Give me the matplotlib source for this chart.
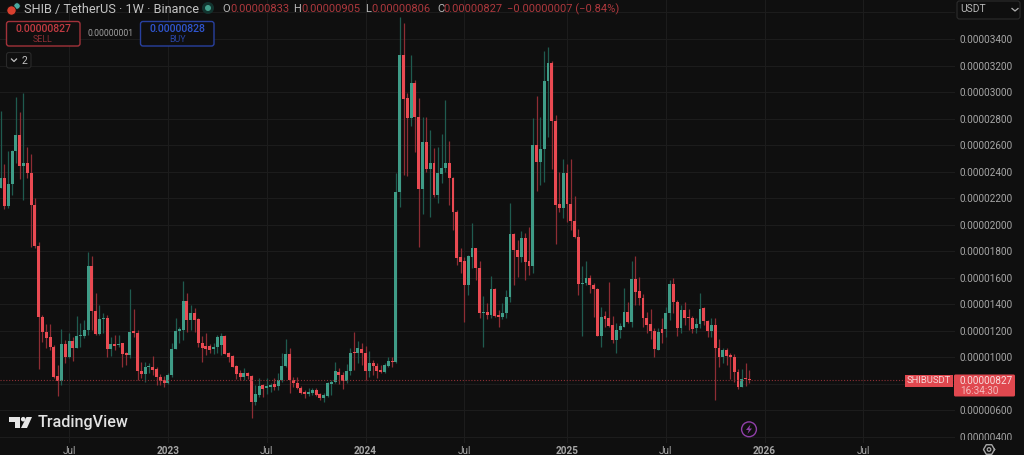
import numpy as np
import matplotlib
matplotlib.use("Agg")
import matplotlib.pyplot as plt
from matplotlib.patches import Circle, FancyBboxPatch, Polygon, Rectangle

plt.rcParams["font.family"] = ["Roboto", "DejaVu Sans"]

# SHIB/USDT weekly candles, prices in units of 0.00000001
opens = [
    2276, 2352, 2143, 2307, 2558, 2676, 2442, 2465, 2392, 2148,
    1839, 1306, 1193, 1151, 1080, 859, 821, 1098, 1000, 1120,
    1068, 1161, 1161, 1206, 1688, 1347, 1176, 1286, 1299, 1060,
    1100, 1095, 1105, 1030, 1015, 1191, 1186, 899, 874, 924,
    929, 909, 854, 829, 809, 864, 1065, 1201, 1206, 1427,
    1281, 1332, 1286, 1105, 1088, 1088, 1065, 1080, 1093, 1161,
    1030, 1010, 934, 879, 849, 879, 859, 661, 718, 789,
    771, 779, 796, 784, 829, 934, 1025, 829, 809, 769,
    741, 723, 728, 754, 721, 696, 711, 799, 811, 892,
    867, 821, 899, 1035, 1030, 1063, 1035, 899, 955, 935,
    902, 887, 937, 972, 965, 2249, 3279, 2955, 2804, 3068,
    2812, 2269, 2623, 2420, 2465, 2224, 2382, 2427, 2465, 2352,
    2096, 1756, 1726, 1545, 1756, 1824, 1673, 1334, 1341, 1319,
    1515, 1319, 1304, 1334, 1455, 1930, 1809, 1756, 1900, 1726,
    1688, 2601, 2473, 2571, 3083, 3219, 2782, 2156, 2126, 2390,
    2156, 2028, 1907, 1553, 1560, 1598, 1545, 1515, 1161, 1311,
    1296, 1243, 1130, 1206, 1228, 1342, 1266, 1590, 1500, 1447,
    1296, 1251, 1198, 1055, 1213, 1213, 1334, 1553, 1417, 1221,
    1357, 1304, 1296, 1221, 1251, 1372, 1274, 1198, 1243, 1070,
    1002, 1055, 1017, 1002, 889, 776, 844, 833,
]
closes = [
    2352, 2143, 2307, 2558, 2676, 2442, 2465, 2392, 2148, 1839,
    1306, 1188, 1148, 1080, 854, 821, 1098, 1000, 1120, 1073,
    1161, 1171, 1206, 1688, 1347, 1176, 1286, 1299, 1060, 1100,
    1085, 1103, 1025, 1015, 1191, 1186, 899, 874, 924, 937,
    904, 849, 824, 809, 864, 1065, 1201, 1206, 1427, 1281,
    1332, 1281, 1105, 1073, 1065, 1055, 1080, 1156, 1161, 1025,
    1000, 929, 874, 849, 879, 859, 666, 721, 784, 764,
    779, 786, 774, 829, 934, 1025, 829, 804, 766, 733,
    721, 741, 754, 718, 696, 713, 804, 811, 894, 867,
    821, 899, 1030, 1030, 1068, 1035, 899, 955, 935, 899,
    887, 942, 972, 967, 2249, 3279, 2948, 2804, 3068, 2812,
    2269, 2623, 2420, 2465, 2224, 2390, 2427, 2465, 2352, 2096,
    1749, 1718, 1545, 1764, 1824, 1673, 1334, 1341, 1319, 1515,
    1311, 1304, 1334, 1455, 1930, 1809, 1756, 1900, 1718, 1688,
    2601, 2473, 2571, 3083, 3219, 2782, 2148, 2126, 2390, 2156,
    2028, 1907, 1553, 1560, 1598, 1545, 1515, 1161, 1304, 1289,
    1236, 1130, 1206, 1236, 1342, 1266, 1590, 1492, 1447, 1296,
    1243, 1198, 1062, 1191, 1183, 1334, 1553, 1417, 1221, 1357,
    1296, 1296, 1213, 1251, 1364, 1274, 1198, 1243, 1070, 1002,
    1055, 1010, 1002, 889, 776, 836, 836, 827,
]
highs = [
    2859, 2457, 2558, 2563, 2965, 2850, 2995, 2586, 2533, 2201,
    1872, 1319, 1251, 1251, 1093, 942, 1211, 1130, 1181, 1151,
    1314, 1256, 1281, 1796, 1764, 1482, 1394, 1332, 1319, 1156,
    1168, 1168, 1110, 1043, 1517, 1362, 1206, 967, 967, 955,
    1010, 929, 874, 859, 879, 1105, 1294, 1226, 1575, 1482,
    1394, 1369, 1294, 1161, 1181, 1100, 1105, 1168, 1186, 1168,
    1043, 1017, 942, 904, 917, 892, 867, 791, 841, 796,
    841, 804, 841, 879, 1030, 1138, 1068, 854, 849, 784,
    754, 766, 766, 766, 728, 733, 816, 829, 962, 917,
    892, 950, 1068, 1193, 1125, 1105, 1088, 1050, 980, 955,
    942, 955, 1005, 1005, 2390, 3566, 3521, 2993, 3279, 3091,
    2955, 2812, 2812, 2714, 2578, 2586, 2684, 2940, 2631, 2359,
    2111, 1824, 1756, 1771, 2013, 1827, 1726, 1462, 1409, 1613,
    1522, 1357, 1409, 1507, 2163, 1937, 1884, 1952, 1937, 1982,
    2804, 2970, 2812, 3309, 3340, 3234, 2827, 2397, 2495, 2457,
    2495, 2216, 1967, 1688, 1726, 1620, 1560, 1522, 1379, 1349,
    1568, 1311, 1259, 1259, 1522, 1417, 1726, 1764, 1605, 1477,
    1342, 1364, 1221, 1221, 1296, 1379, 1583, 1598, 1432, 1394,
    1417, 1364, 1311, 1296, 1485, 1379, 1281, 1296, 1296, 1138,
    1070, 1070, 1032, 1025, 912, 912, 957, 905,
]
lows = [
    2276, 2118, 2126, 2224, 2465, 2344, 2186, 2352, 1834, 1824,
    912, 1118, 1068, 1055, 841, 711, 791, 955, 992, 975,
    1068, 1080, 1143, 1168, 1206, 1168, 1168, 1181, 1000, 1010,
    1055, 1080, 924, 942, 992, 1151, 829, 841, 816, 879,
    867, 791, 791, 779, 799, 854, 1063, 1105, 1130, 1193,
    1206, 1193, 1080, 967, 1017, 1030, 1025, 1030, 1017, 1025,
    967, 924, 834, 829, 829, 834, 545, 640, 703, 703,
    723, 741, 754, 754, 816, 929, 728, 774, 759, 723,
    696, 711, 716, 711, 678, 661, 703, 716, 804, 799,
    761, 804, 867, 904, 955, 942, 829, 849, 867, 847,
    879, 879, 929, 929, 955, 2133, 2374, 2367, 2744, 2548,
    1832, 2080, 2397, 2058, 2209, 2163, 2314, 2397, 2148, 1960,
    1696, 1636, 1266, 1470, 1673, 1583, 1296, 1078, 1289, 1296,
    1304, 1228, 1289, 1296, 1417, 1545, 1605, 1718, 1583, 1620,
    1636, 2254, 2299, 2322, 2661, 2420, 1854, 2096, 2050, 2020,
    1960, 1899, 1470, 1161, 1545, 1485, 1304, 1161, 1078, 1228,
    1228, 1108, 1032, 1146, 1228, 1259, 1228, 1394, 1394, 1228,
    1183, 1138, 1002, 1055, 1108, 1153, 1281, 1334, 1161, 1183,
    1243, 1206, 1183, 1183, 1221, 1243, 1153, 1153, 678, 927,
    957, 942, 836, 814, 761, 776, 784, 806,
]

# week index of each time label on the x axis
tick_weeks = [18, 44, 70, 96, 122, 149, 175, 201, 227]
tick_labels = ["Jul", "2023", "Jul", "2024", "Jul", "2025", "Jul", "2026", "Jul"]
price_ticks = list(range(400, 3601, 200))
# these two sit behind the selector and the last price tag
hidden_prices = [800, 3600]

BG = "#0f0f0f"
GRID = "#1c1c1c"
UP = "#3f9c87"
DOWN = "#ea4a52"
UP_WICK = "#1f5b4f"
DOWN_WICK = "#8e2d34"
TEXT = "#a6a6a6"
RED_TEXT = "#ad383d"

fig = plt.figure(figsize=(10.24, 4.55), dpi=100, facecolor=BG)
ax = fig.add_axes([0, 12 / 455, 955 / 1024, 443 / 455], facecolor=BG)

o = np.array(opens)
c = np.array(closes)
weeks = np.arange(len(o))
rising = c >= o

# candles
ax.vlines(weeks[rising], np.array(lows)[rising], np.array(highs)[rising],
          color=UP_WICK, lw=0.9, zorder=2)
ax.vlines(weeks[~rising], np.array(lows)[~rising], np.array(highs)[~rising],
          color=DOWN_WICK, lw=0.9, zorder=2)
bottoms = np.minimum(o, c)
heights = np.maximum(np.abs(c - o), 9)
ax.bar(weeks, heights, bottom=bottoms, width=0.76,
       color=np.where(rising, UP, DOWN), linewidth=0, zorder=3)

ax.axhline(closes[-1], color="#8e3036", lw=0.8, ls=(0, (1, 1.6)), zorder=4)

ax.set_xlim(-0.18, 251.1)
ax.set_ylim(354, 3694)
ax.set_xticks(tick_weeks)
ax.set_xticklabels(tick_labels)
ax.set_yticks(price_ticks)
ax.set_yticklabels(["" if p in hidden_prices else f"{p * 1e-8:.8f}" for p in price_ticks])
ax.yaxis.tick_right()
ax.tick_params(axis="both", length=0, labelsize=7.2, labelcolor=TEXT)
ax.tick_params(axis="x", pad=2.5)
ax.tick_params(axis="y", pad=3.5)
for lab in ax.get_xticklabels():
    if lab.get_text() != "Jul":
        lab.set_fontweight("bold")
ax.grid(True, color=GRID, lw=0.8)
ax.set_axisbelow(True)
for s in ax.spines.values():
    s.set_visible(False)

# overlay in pixel coordinates for the TradingView interface parts
ui = fig.add_axes([0, 0, 1, 1])
ui.set_xlim(0, 1024)
ui.set_ylim(455, 0)
ui.axis("off")


def box(x0, y0, x1, y1, edge, face=BG, lw=1.0, r=2.5):
    ui.add_patch(FancyBboxPatch((x0, y0), x1 - x0, y1 - y0,
                                boxstyle=f"round,pad=0,rounding_size={r}",
                                ec=edge, fc=face, lw=lw))


# cut the lowest price label the way the time scale does
ui.add_patch(Rectangle((955, 439.5), 69, 16, fc=BG, ec="none"))

# header
ui.add_patch(Circle((17, 6), 3.2, fc="#4aa8a0", ec=BG, lw=0.5))
ui.add_patch(Circle((11.5, 10.5), 4.6, fc="#d8402f", ec=BG, lw=0.5))
ui.text(24, 9, "SHIB / TetherUS · 1W · Binance", color="#c4c4c4", fontsize=9.2,
        va="center")
ui.add_patch(Circle((208, 8), 6, fc="#12342f", ec="none"))
ui.add_patch(Circle((208, 8), 3, fc="#43a08c", ec="none"))
ohlc = [(222, "O", 230, "0.00000833"), (293, "H", 301, "0.00000905"),
        (365, "L", 371, "0.00000806"), (437, "C", 443, "0.00000827")]
for lx, name, vx, val in ohlc:
    ui.text(lx, 9, name, color="#b8b8b8", fontsize=8, va="center")
    ui.text(vx, 9, val, color=RED_TEXT, fontsize=8, va="center")
ui.text(507, 9, "−0.00000007 (−0.84%)", color=RED_TEXT, fontsize=8, va="center")

# sell and buy buttons
box(6.5, 21.5, 80, 46, "#a2323a")
ui.text(43, 28.5, "0.00000827", color="#c23a41", fontsize=7.6, ha="center",
        va="center", fontweight="medium")
ui.text(43, 39.5, "SELL", color="#8a2e34", fontsize=6.4, ha="center", va="center")
ui.text(110, 34, "0.00000001", color="#a0a0a0", fontsize=6.2, ha="center",
        va="center")
box(140.5, 21.5, 214, 46, "#28409f")
ui.text(177, 28.5, "0.00000828", color="#2f55cf", fontsize=7.6, ha="center",
        va="center", fontweight="medium")
ui.text(177, 39.5, "BUY", color="#2a46a6", fontsize=6.4, ha="center", va="center")

# collapsed indicators
box(6.5, 52.5, 31, 68, "#2a2a2a", lw=0.8)
ui.plot([11.5, 14, 16.5], [59, 61.5, 59], color="#c0c0c0", lw=0.9)
ui.text(22, 60.5, "2", color="#c0c0c0", fontsize=7.5, va="center")

# currency selector
box(957, 1, 1020, 19, "#2c2c2c", lw=0.8)
ui.text(960, 9.5, "USDT", color="#b8b8b8", fontsize=7.4, va="center")
ui.plot([1012, 1015, 1018], [8.5, 11, 8.5], color="#b0b0b0", lw=0.9)

# last price tags
ui.add_patch(Rectangle((905, 374.5), 48, 12, fc="#e0484f", ec="none"))
ui.text(929, 380.5, "SHIBUSDT", color="#f4d6d6", fontsize=6.8, ha="center",
        va="center")
box(954, 374.5, 1015, 396.5, "#e0484f", face="#e0484f", lw=0, r=1.5)
ui.text(959.5, 380.5, "0.00000827", color="#f7dcdc", fontsize=7.2, va="center")
ui.text(960, 390.5, "16:34:30", color="#f3b9bb", fontsize=7.2, va="center")

# TradingView logo
ui.add_patch(Polygon([(9, 417), (19.5, 417), (19.5, 428), (14.5, 428),
                      (14.5, 421.5), (9, 421.5)], fc="#e6e6e6", ec="none"))
ui.add_patch(Circle((23.2, 419.2), 2.3, fc="#e6e6e6", ec="none"))
ui.add_patch(Polygon([(26.5, 417), (32, 417), (27, 428), (21, 428)],
                     fc="#e6e6e6", ec="none"))
ui.text(37.5, 423, "TradingView", color="#e2e2e2", fontsize=11.6, va="center",
        fontweight="medium")

# lightning badge
ui.add_patch(Circle((749, 429.3), 7.4, fc=BG, ec="#8f3fa8", lw=1.0))
ui.add_patch(Polygon([(750.5, 424.5), (746, 430), (748.8, 430), (747.5, 434),
                      (752, 428.5), (749.3, 428.5)], fc="#8f3fa8", ec="none"))

# settings gear
angles = np.deg2rad(np.arange(0, 361, 60))
ui.plot(989 + 5.5 * np.cos(angles), 449.5 + 5.5 * np.sin(angles), color="#a8a8a8", lw=1.0)
ui.add_patch(Circle((989, 449.5), 1.8, fc="none", ec="#a8a8a8", lw=0.9))

fig.savefig("out.png", dpi=100, facecolor=BG)
